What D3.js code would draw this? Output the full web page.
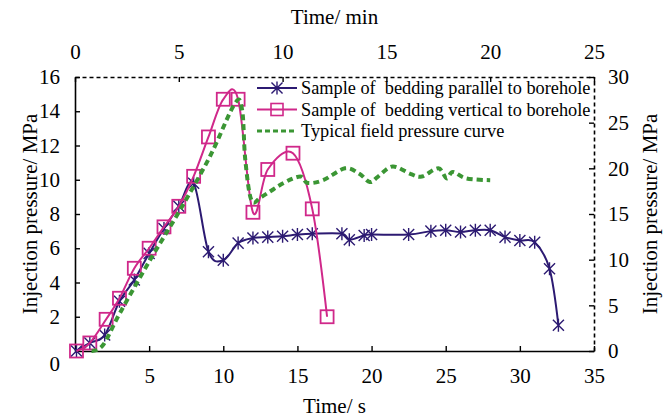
<!DOCTYPE html>
<html>
<head>
<meta charset="utf-8">
<script src="https://cdn.jsdelivr.net/npm/d3@7"></script>
<style>
  html, body { margin: 0; padding: 0; background: #fff; }
  svg { display: block; font-family: "Liberation Serif", "Times New Roman", serif; }
</style>
</head>
<body>
<div id="chart"></div>
<script>
// ---- data ----
// Sample of bedding parallel to borehole (time in s, pressure in MPa)
const parallelTime = [0.1, 1.0, 2.0, 3.0, 4.0, 5.0, 6.0, 7.0, 8.0, 9.0, 10.0, 11.0, 12.0, 13.0, 14.0, 15.0, 16.0, 18.0, 18.5, 19.5, 20.0, 22.5, 24.0, 25.0, 26.0, 27.0, 28.0, 29.0, 30.0, 31.0, 32.0, 32.6]
const parallelPressure = [0, 0.47, 0.93, 2.9, 4.15, 5.7, 7.15, 8.45, 9.8, 5.8, 5.3, 6.3, 6.6, 6.65, 6.7, 6.8, 6.85, 6.85, 6.5, 6.75, 6.8, 6.8, 7.0, 7.05, 6.95, 7.05, 7.05, 6.65, 6.45, 6.35, 4.8, 1.5]

// Sample of bedding vertical to borehole (time in s, pressure in MPa)
const verticalTime = [0.1, 1.0, 2.1, 3.0, 4.0, 5.0, 6.0, 7.0, 8.0, 9.0, 10.0, 11.0, 12.0, 13.0, 14.7, 16.0, 17.0]
const verticalPressure = [0, 0.47, 1.85, 3.08, 4.83, 6.0, 7.25, 8.45, 10.2, 12.5, 14.7, 14.7, 8.1, 10.6, 11.55, 8.3, 2.0]

// Typical field pressure curve (time in min, pressure in MPa, secondary axes)
const fieldTime = [0.8, 1.35, 2.15, 3.6, 5.05, 6.5, 7.7, 8.05, 8.2, 8.5, 9.0, 10.05, 10.85, 11.2, 11.95, 13.0, 13.7, 14.2, 14.6, 15.3, 16.15, 16.7, 17.5, 17.9, 18.2, 18.85, 20.0]
const fieldPressure = [0, 0.65, 4.1, 9.9, 15.4, 21.3, 27.1, 26.4, 21.0, 16.5, 16.9, 18.4, 19.1, 18.4, 18.7, 20.0, 19.4, 18.5, 19.1, 20.2, 19.4, 19.1, 20.0, 18.9, 19.6, 18.9, 18.7]

const xTicks = [5, 10, 15, 20, 25, 30, 35]
const yTicks = [0, 2, 4, 6, 8, 10, 12, 14, 16]
const xTopTicks = [0, 5, 10, 15, 20, 25]
const yRightTicks = [0, 5, 10, 15, 20, 25, 30]

const legendLabels = [
  'Sample of  bedding parallel to borehole',
  'Sample of  bedding vertical to borehole',
  'Typical field pressure curve'
]

// ---- layout ----
const width = 668
const height = 420
const margin = { top: 77, right: 74, bottom: 69, left: 75 }
const x0 = margin.left, x1 = width - margin.right
const y0 = height - margin.bottom, y1 = margin.top

const BLUE = '#2c1a72'
const MAGENTA = '#d0288a'
const GREEN = '#3b9634'
const FONT = '"Liberation Serif", "Times New Roman", serif'

const x = d3.scaleLinear().domain([0, 35]).range([x0, x1])
const xTop = d3.scaleLinear().domain([0, 25]).range([x0, x1])
const y = d3.scaleLinear().domain([0, 16]).range([y0, y1])
const yR = d3.scaleLinear().domain([0, 30]).range([y0, y1])

const svg = d3.select('#chart').append('svg')
  .attr('width', width)
  .attr('height', height)

function styleAxis(g, dashed) {
  g.select('.domain')
    .attr('stroke', '#000')
    .attr('stroke-width', 1.6)
    .attr('stroke-dasharray', dashed ? '4,3' : null)
  g.selectAll('.tick line').attr('stroke', '#000').attr('stroke-width', 1.4)
  g.selectAll('.tick text')
    .attr('fill', '#000')
    .attr('font-size', '21px')
    .attr('font-family', FONT)
}

// Top axis (min), dashed
svg.append('g')
  .attr('transform', `translate(0,${y1})`)
  .call(d3.axisTop(xTop).tickValues(xTopTicks).tickSizeInner(-5).tickSizeOuter(0).tickPadding(18))
  .call(g => styleAxis(g, true))

// Right axis (MPa), dashed
svg.append('g')
  .attr('transform', `translate(${x1},0)`)
  .call(d3.axisRight(yR).tickValues(yRightTicks).tickSizeInner(-5).tickSizeOuter(0).tickPadding(14))
  .call(g => styleAxis(g, true))

// Left axis (MPa)
svg.append('g')
  .attr('transform', `translate(${x0},0)`)
  .call(d3.axisLeft(y).tickValues(yTicks).tickSizeInner(-5).tickSizeOuter(0).tickPadding(15))
  .call(g => {
    styleAxis(g, false)
    g.selectAll('.tick').filter(d => d === 0).select('line').remove()
    g.selectAll('.tick').filter(d => d === 0).select('text').attr('dy', '0.95em')
  })

// Bottom axis (s)
svg.append('g')
  .attr('transform', `translate(0,${y0})`)
  .call(d3.axisBottom(x).tickValues(xTicks).tickSizeInner(-5).tickSizeOuter(0).tickPadding(17))
  .call(g => styleAxis(g, false))

// Axis titles
svg.append('text')
  .attr('x', (x0 + x1) / 2).attr('y', 24)
  .attr('text-anchor', 'middle')
  .attr('font-size', '21px').attr('font-family', FONT)
  .text('Time/ min')

svg.append('text')
  .attr('x', (x0 + x1) / 2).attr('y', 413)
  .attr('text-anchor', 'middle')
  .attr('font-size', '21px').attr('font-family', FONT)
  .text('Time/ s')

svg.append('text')
  .attr('transform', `translate(30,${(y0 + y1) / 2}) rotate(-90)`)
  .attr('text-anchor', 'middle')
  .attr('dy', '0.35em')
  .attr('font-size', '21px').attr('font-family', FONT)
  .text('Injection pressure/ MPa')

svg.append('text')
  .attr('transform', `translate(650,${(y0 + y1) / 2}) rotate(-90)`)
  .attr('text-anchor', 'middle')
  .attr('dy', '0.35em')
  .attr('font-size', '21px').attr('font-family', FONT)
  .text('Injection pressure/ MPa')

// ---- series ----
const parallel = parallelTime.map((t, i) => ({ t, p: parallelPressure[i] }))
const vertical = verticalTime.map((t, i) => ({ t, p: verticalPressure[i] }))
const field = fieldTime.map((t, i) => ({ t, p: fieldPressure[i] }))

const smooth = d3.curveCatmullRom.alpha(0)

const lineMain = d3.line().x(d => x(d.t)).y(d => y(d.p)).curve(smooth)
const lineField = d3.line().x(d => xTop(d.t)).y(d => yR(d.p)).curve(smooth)

function asterisk(s) {
  const a = s * 0.85
  return `M${-a},${-a}L${a},${a}M${-a},${a}L${a},${-a}M0,${-s}L0,${s}`
}

// Blue: parallel
svg.append('path')
  .datum(parallel)
  .attr('d', lineMain)
  .attr('fill', 'none')
  .attr('stroke', BLUE)
  .attr('stroke-width', 2)

svg.append('g').selectAll('path')
  .data(parallel)
  .join('path')
  .attr('transform', d => `translate(${x(d.t)},${y(d.p)})`)
  .attr('d', asterisk(6.5))
  .attr('fill', 'none')
  .attr('stroke', BLUE)
  .attr('stroke-width', 1.4)

// Magenta: vertical
svg.append('path')
  .datum(vertical)
  .attr('d', lineMain)
  .attr('fill', 'none')
  .attr('stroke', MAGENTA)
  .attr('stroke-width', 2)

svg.append('g').selectAll('rect')
  .data(vertical)
  .join('rect')
  .attr('x', d => x(d.t) - 6.5)
  .attr('y', d => y(d.p) - 6.5)
  .attr('width', 13)
  .attr('height', 13)
  .attr('fill', 'none')
  .attr('stroke', MAGENTA)
  .attr('stroke-width', 1.8)

// Green: field curve on secondary axes
svg.append('path')
  .datum(field)
  .attr('d', lineField)
  .attr('fill', 'none')
  .attr('stroke', GREEN)
  .attr('stroke-width', 4)
  .attr('stroke-dasharray', '6,4')

// ---- legend ----
const legend = svg.append('g').attr('transform', 'translate(257,88)')
const rowGap = 21.5

legendLabels.forEach((label, i) => {
  const row = legend.append('g').attr('transform', `translate(0,${i * rowGap})`)
  const color = [BLUE, MAGENTA, GREEN][i]
  row.append('line')
    .attr('x1', 0).attr('x2', 40)
    .attr('stroke', color)
    .attr('stroke-width', i === 2 ? 3 : 2)
    .attr('stroke-dasharray', i === 2 ? '5,3' : null)
  if (i === 0) {
    row.append('path').attr('transform', 'translate(20,0)').attr('d', asterisk(6.5))
      .attr('fill', 'none').attr('stroke', BLUE).attr('stroke-width', 1.4)
  } else if (i === 1) {
    row.append('rect').attr('x', 14).attr('y', -6).attr('width', 12).attr('height', 12)
      .attr('fill', 'none').attr('stroke', MAGENTA).attr('stroke-width', 1.6)
  }
  row.append('text')
    .attr('x', 44)
    .attr('dy', '0.35em')
    .attr('font-size', '18.3px')
    .attr('font-family', FONT)
    .attr('xml:space', 'preserve')
    .style('white-space', 'pre')
    .text(label)
})
</script>
</body>
</html>
